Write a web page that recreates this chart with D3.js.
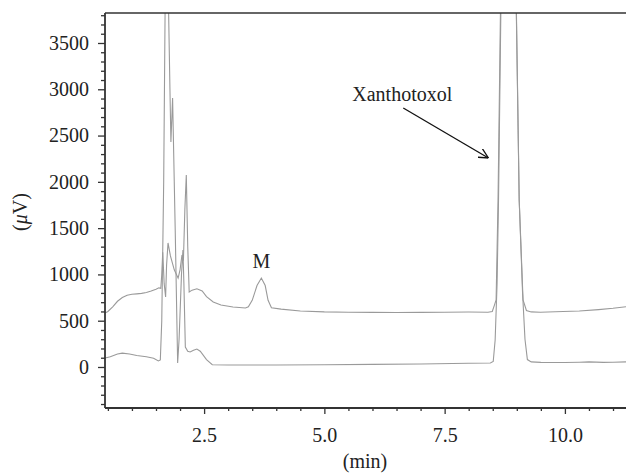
<!DOCTYPE html>
<html><head><meta charset="utf-8">
<script src="https://cdn.jsdelivr.net/npm/d3@7/dist/d3.min.js"></script>
<style>html,body{margin:0;padding:0;background:#fff;}</style>
</head><body>
<svg id="c" width="626" height="476"></svg>
<script>
// Upper trace (sample, with metabolite M)  [time (min), signal (µV)]
const upperTrace = [
[0.44,583],[0.5,600],[0.6,650],[0.7,710],[0.8,750],[0.9,775],[1.0,785],[1.1,790],[1.2,795],[1.3,805],[1.4,820],[1.5,840],[1.56,855],[1.6,850],
[1.62,1000],[1.64,1240],[1.67,900],[1.70,756],[1.72,1100],[1.75,1340],[1.8,1200],[1.88,1050],[1.96,960],[2.0,1050],[2.04,1210],[2.07,1150],
[2.1,1700],[2.13,2074],[2.16,1300],[2.19,810],[2.25,830],[2.35,845],[2.46,821],[2.55,760],[2.69,702],[2.85,670],[3.1,648],[3.36,637],
[3.42,650],[3.5,720],[3.6,880],[3.69,961],[3.77,880],[3.83,720],[3.9,640],[4.1,625],[4.5,605],[5.0,595],[5.5,592],[6.0,590],[6.5,588],
[7.0,590],[7.5,592],[8.0,594],[8.4,592],[8.49,600],[8.53,660],[8.57,724],[8.61,1804],[8.66,3824],[8.8,6000],[8.99,3824],[9.05,1804],
[9.13,724],[9.2,610],[9.3,595],[9.49,591],[9.8,596],[10.3,605],[10.7,620],[11.0,634],[11.27,651]
];
// Lower trace (standard)
const lowerTrace = [
[0.44,97],[0.55,110],[0.7,140],[0.8,150],[0.95,140],[1.1,125],[1.3,110],[1.45,95],[1.55,65],[1.59,76],[1.62,500],[1.66,2000],[1.69,3900],
[1.72,5000],[1.76,3900],[1.79,3000],[1.81,2430],[1.845,2906],[1.9,1470],[1.95,43],[1.98,300],[2.03,1000],[2.06,1264],[2.08,900],[2.11,216],
[2.16,170],[2.21,162],[2.28,180],[2.35,194],[2.42,170],[2.55,80],[2.67,25],[3.0,22],[4.0,22],[5.0,24],[6.0,28],[7.0,32],[8.0,40],[8.45,43],
[8.51,60],[8.55,292],[8.59,900],[8.62,1800],[8.67,3900],[8.8,6000],[8.99,3900],[9.05,1800],[9.12,800],[9.17,300],[9.22,80],[9.3,55],
[9.5,50],[10.0,48],[10.3,52],[10.5,55],[10.8,50],[11.0,52],[11.27,55]
];
const xMajorTicks = [2.5, 5.0, 7.5, 10.0];
const xMinorTicks = [0.5,1.0,1.5,2.0,3.0,3.5,4.0,4.5,5.5,6.0,6.5,7.0,8.0,8.5,9.0,9.5,10.5,11.0];
const yMajorTicks = [0,500,1000,1500,2000,2500,3000,3500];
const yMinorTicks = d3.range(-400, 3801, 100).filter(v => v % 500 !== 0);
const xDomain = [0.44, 11.27];
const yDomain = [-443, 3824];
const xLabel = "(min)";
const annotations = [{text:"M", t:3.69, v:1069}];
const arrowLabel = {text:"Xanthotoxol", t:5.58, v:2873, from:[6.64,2798], to:[8.41,2258]};

const svg = d3.select("#c");
const L = 105, R = 626, T = 13, B = 408;
const x = d3.scaleLinear().domain(xDomain).range([L, R]);
const y = d3.scaleLinear().domain(yDomain).range([B, T]);
const font = "Liberation Serif";
const axisCol = "#333";

svg.append("defs").append("clipPath").attr("id","clip")
  .append("rect").attr("x",L).attr("y",T).attr("width",R-L).attr("height",B-T);
svg.select("defs").append("marker").attr("id","arr").attr("viewBox","0 0 10 10")
  .attr("refX",10).attr("refY",5).attr("markerWidth",10).attr("markerHeight",10)
  .attr("markerUnits","userSpaceOnUse").attr("orient","auto")
  .append("path").attr("d","M0,0 L10,5 L0,10").attr("fill","none").attr("stroke","#111").attr("stroke-width",1.3);

const line = d3.line().x(d => x(d[0])).y(d => y(d[1]));
const g = svg.append("g").attr("clip-path","url(#clip)");
[upperTrace, lowerTrace].forEach(tr => {
  g.append("path").attr("d", line(tr)).attr("fill","none").attr("stroke","#9a9a9a").attr("stroke-width",1.1);
});

// axes
const yAxis = d3.axisLeft(y).tickValues(yMajorTicks).tickSize(7).tickPadding(9).tickFormat(d3.format("d"));
const yMinor = d3.axisLeft(y).tickValues(yMinorTicks).tickSize(4).tickFormat("");
const xAxis = d3.axisBottom(x).tickValues(xMajorTicks).tickSize(6).tickPadding(14).tickFormat(d3.format(".1f"));
const xMinor = d3.axisBottom(x).tickValues(xMinorTicks).tickSize(3).tickFormat("");

function style(sel){
  sel.selectAll(".domain").remove();
  sel.selectAll("line").attr("stroke",axisCol).attr("stroke-width",1.3);
  sel.selectAll("text").attr("font-family",font).attr("font-size",20).attr("fill","#222");
}
svg.append("g").attr("transform",`translate(${L},0)`).call(yAxis).call(style);
svg.append("g").attr("transform",`translate(${L},0)`).call(yMinor).call(style);
svg.append("g").attr("transform",`translate(0,${B})`).call(xAxis).call(style);
svg.append("g").attr("transform",`translate(0,${B})`).call(xMinor).call(style);

// frame lines
svg.append("line").attr("x1",L).attr("x2",L).attr("y1",T).attr("y2",B).attr("stroke",axisCol).attr("stroke-width",1.8);
svg.append("line").attr("x1",L).attr("x2",R).attr("y1",B).attr("y2",B).attr("stroke",axisCol).attr("stroke-width",1.8);
svg.append("line").attr("x1",L).attr("x2",R).attr("y1",T).attr("y2",T).attr("stroke",axisCol).attr("stroke-width",1.5);

// axis labels
svg.append("text").attr("x",365).attr("y",468).attr("text-anchor","middle")
  .attr("font-family",font).attr("font-size",20).attr("fill","#222").text(xLabel);
const yl = svg.append("text").attr("transform","translate(27,212) rotate(-90)").attr("text-anchor","middle")
  .attr("font-family",font).attr("font-size",20).attr("fill","#222");
yl.append("tspan").text("(");
yl.append("tspan").attr("font-style","italic").text("μ");
yl.append("tspan").text("V)");

// annotations
annotations.forEach(a => {
  svg.append("text").attr("x",x(a.t)).attr("y",y(a.v)).attr("text-anchor","middle")
    .attr("font-family",font).attr("font-size",20).attr("fill","#222").text(a.text);
});
svg.append("text").attr("x",x(arrowLabel.t)).attr("y",y(arrowLabel.v))
  .attr("font-family",font).attr("font-size",20).attr("fill","#222").text(arrowLabel.text);
svg.append("line").attr("x1",x(arrowLabel.from[0])).attr("y1",y(arrowLabel.from[1]))
  .attr("x2",x(arrowLabel.to[0])).attr("y2",y(arrowLabel.to[1]))
  .attr("stroke","#111").attr("stroke-width",1.3).attr("marker-end","url(#arr)");
</script>
</body></html>
